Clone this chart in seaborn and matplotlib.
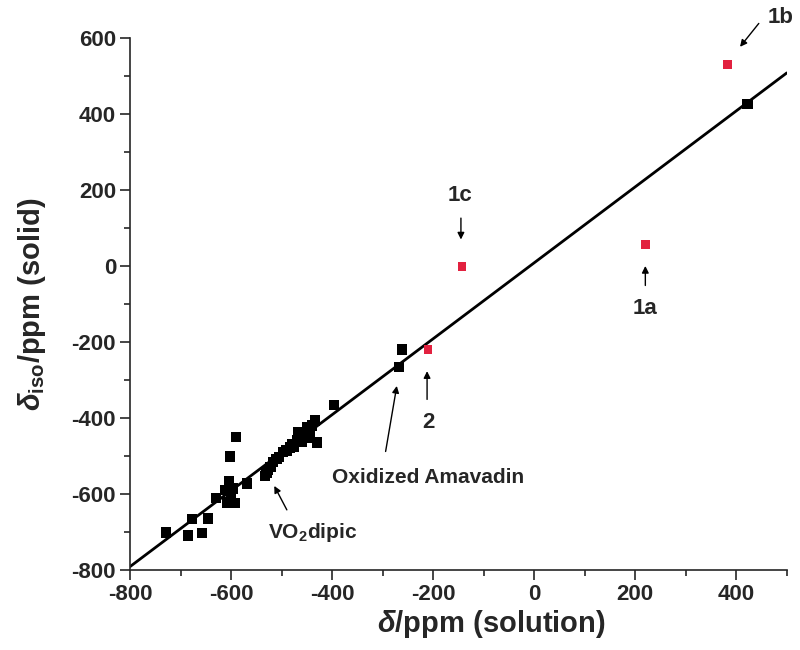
import numpy as np
import pandas as pd
import matplotlib
matplotlib.use("Agg")
import matplotlib.pyplot as plt
from matplotlib.ticker import MultipleLocator
import seaborn as sns

# datos
black_x = [-729, -685, -677, -657, -645, -630, -612, -608, -604, -602,
           -600, -596, -592, -590, -568, -533, -530, -527, -522, -517,
           -510, -505, -497, -490, -483, -480, -475, -469, -467, -460,
           -457, -450, -450, -445, -444, -440, -434, -430, -396, -267,
           -261, 422]
black_y = [-701, -709, -666, -703, -664, -611, -590, -622, -566, -501,
           -603, -585, -624, -450, -572, -553, -545, -537, -528, -516,
           -508, -502, -490, -485, -477, -468, -475, -458, -437, -462,
           -440, -424, -452, -432, -450, -419, -406, -464, -366, -266,
           -219, 427]

red_x = [220, 382, -143, -210]
red_y = [58, 532, 0, -219]
red_labels = ["1a", "1b", "1c", "2"]

fit_slope = 1.0
fit_intercept = 9
fit_x = np.array([-800, 500])

black = pd.DataFrame({"x": black_x, "y": black_y})
red = pd.DataFrame({"x": red_x, "y": red_y, "label": red_labels})
fit = pd.DataFrame({"x": fit_x, "y": fit_slope * fit_x + fit_intercept})

sns.set_style("ticks")
plt.rcParams["font.family"] = ["Liberation Sans", "DejaVu Sans"]
plt.rcParams["font.weight"] = "bold"
plt.rcParams["axes.unicode_minus"] = False
plt.rcParams["mathtext.fontset"] = "custom"
plt.rcParams["mathtext.rm"] = "Liberation Sans:bold"
plt.rcParams["mathtext.it"] = "Liberation Sans:italic:bold"
plt.rcParams["mathtext.bf"] = "Liberation Sans:bold"

fig = plt.figure(figsize=(8, 6.5), dpi=100)
ax = fig.add_axes([0.1625, 0.123, 0.821, 0.818])

sns.lineplot(data=fit, x="x", y="y", color="black", lw=2, ax=ax)
sns.scatterplot(data=black, x="x", y="y", marker="s", s=55, color="black",
                edgecolor="none", ax=ax, zorder=3)
sns.scatterplot(data=red, x="x", y="y", marker="s", s=40, color="#e2213f",
                edgecolor="none", ax=ax, zorder=3)

ax.set_xlim(-800, 500)
ax.set_ylim(-800, 600)
ax.xaxis.set_major_locator(MultipleLocator(200))
ax.xaxis.set_minor_locator(MultipleLocator(100))
ax.yaxis.set_major_locator(MultipleLocator(200))
ax.yaxis.set_minor_locator(MultipleLocator(100))
ax.tick_params(which="major", length=7, width=1.2, labelsize=16, pad=3)
ax.tick_params(which="minor", length=4, width=1.2)
for lbl in ax.get_xticklabels() + ax.get_yticklabels():
    lbl.set_fontweight("bold")
sns.despine(ax=ax)
for sp in ["left", "bottom"]:
    ax.spines[sp].set_linewidth(1.2)

ax.set_xlabel(r"$\delta$/ppm (solution)", fontsize=21, fontweight="bold")
ax.set_ylabel(r"$\delta_{\mathrm{iso}}$/ppm (solid)", fontsize=21, fontweight="bold")
ax.xaxis.set_label_coords(0.55, -0.072)
ax.yaxis.set_label_coords(-0.125, 0.5)

arrow = dict(arrowstyle="-|>", color="black", lw=1, mutation_scale=10)
# etiquetas de los puntos rojos
ax.annotate("", xy=(404, 572), xytext=(448, 645), arrowprops=arrow, annotation_clip=False)
ax.text(487, 656, "1b", fontsize=16, fontweight="bold", ha="center", va="center", clip_on=False)
ax.annotate("", xy=(-145, 63), xytext=(-145, 134), arrowprops=arrow)
ax.text(-147, 187, "1c", fontsize=16, fontweight="bold", ha="center", va="center")
ax.annotate("", xy=(220, 8), xytext=(220, -58), arrowprops=arrow)
ax.text(220, -111, "1a", fontsize=16, fontweight="bold", ha="center", va="center")
ax.annotate("", xy=(-212, -269), xytext=(-212, -358), arrowprops=arrow)
ax.text(-210, -411, "2", fontsize=16, fontweight="bold", ha="center", va="center")
ax.annotate("", xy=(-271, -308), xytext=(-295, -495), arrowprops=arrow)
ax.text(-210, -556, "Oxidized Amavadin", fontsize=15, fontweight="bold", ha="center", va="center")
ax.annotate("", xy=(-517, -572), xytext=(-487, -648), arrowprops=arrow)
ax.text(-438, -701, r"VO$_2$dipic", fontsize=15, fontweight="bold", ha="center", va="center")

plt.savefig("out.png", dpi=100)
